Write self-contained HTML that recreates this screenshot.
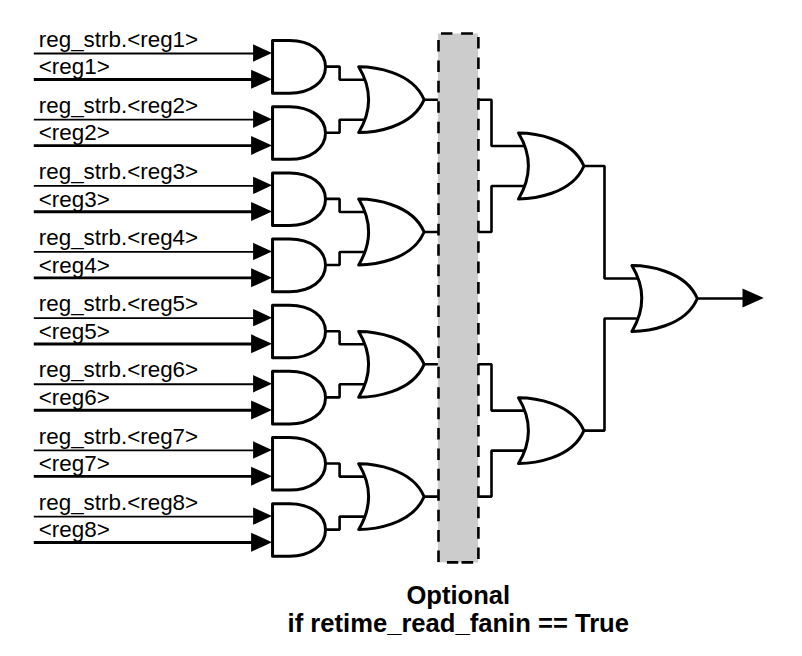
<!DOCTYPE html>
<html><head><meta charset="utf-8"><style>
html,body{margin:0;padding:0;background:#fff;}
svg{display:block;}
.t{font-family:"Liberation Sans",sans-serif;font-size:22.4px;fill:#000;}
.b{font-family:"Liberation Sans",sans-serif;font-size:25.6px;font-weight:bold;fill:#000;}
</style></head><body>
<svg width="802" height="656" viewBox="0 0 802 656">
<path d="M33.8 53.5H256" stroke="#000" stroke-width="1.8"/>
<path d="M33.8 79.45H256" stroke="#000" stroke-width="2.9"/>
<path d="M253.1 44.35L272 53.05L253.1 61.75Z"/>
<path d="M251.1 69.75L272 79.25L251.1 88.75Z"/>
<text x="38.8" y="46.7" class="t">reg_strb.&lt;reg1&gt;</text>
<text x="38.8" y="74.2" class="t">&lt;reg1&gt;</text>
<path d="M33.8 119.65H256" stroke="#000" stroke-width="1.8"/>
<path d="M33.8 145.6H256" stroke="#000" stroke-width="2.9"/>
<path d="M253.1 110.5L272 119.2L253.1 127.9Z"/>
<path d="M251.1 135.9L272 145.4L251.1 154.9Z"/>
<text x="38.8" y="112.85" class="t">reg_strb.&lt;reg2&gt;</text>
<text x="38.8" y="140.35" class="t">&lt;reg2&gt;</text>
<path d="M33.8 185.8H256" stroke="#000" stroke-width="1.8"/>
<path d="M33.8 211.75H256" stroke="#000" stroke-width="2.9"/>
<path d="M253.1 176.65L272 185.35L253.1 194.05Z"/>
<path d="M251.1 202.05L272 211.55L251.1 221.05Z"/>
<text x="38.8" y="179" class="t">reg_strb.&lt;reg3&gt;</text>
<text x="38.8" y="206.5" class="t">&lt;reg3&gt;</text>
<path d="M33.8 251.95H256" stroke="#000" stroke-width="1.8"/>
<path d="M33.8 277.9H256" stroke="#000" stroke-width="2.9"/>
<path d="M253.1 242.8L272 251.5L253.1 260.2Z"/>
<path d="M251.1 268.2L272 277.7L251.1 287.2Z"/>
<text x="38.8" y="245.15" class="t">reg_strb.&lt;reg4&gt;</text>
<text x="38.8" y="272.65" class="t">&lt;reg4&gt;</text>
<path d="M33.8 318.1H256" stroke="#000" stroke-width="1.8"/>
<path d="M33.8 344.05H256" stroke="#000" stroke-width="2.9"/>
<path d="M253.1 308.95L272 317.65L253.1 326.35Z"/>
<path d="M251.1 334.35L272 343.85L251.1 353.35Z"/>
<text x="38.8" y="311.3" class="t">reg_strb.&lt;reg5&gt;</text>
<text x="38.8" y="338.8" class="t">&lt;reg5&gt;</text>
<path d="M33.8 384.25H256" stroke="#000" stroke-width="1.8"/>
<path d="M33.8 410.2H256" stroke="#000" stroke-width="2.9"/>
<path d="M253.1 375.1L272 383.8L253.1 392.5Z"/>
<path d="M251.1 400.5L272 410L251.1 419.5Z"/>
<text x="38.8" y="377.45" class="t">reg_strb.&lt;reg6&gt;</text>
<text x="38.8" y="404.95" class="t">&lt;reg6&gt;</text>
<path d="M33.8 450.4H256" stroke="#000" stroke-width="1.8"/>
<path d="M33.8 476.35H256" stroke="#000" stroke-width="2.9"/>
<path d="M253.1 441.25L272 449.95L253.1 458.65Z"/>
<path d="M251.1 466.65L272 476.15L251.1 485.65Z"/>
<text x="38.8" y="443.6" class="t">reg_strb.&lt;reg7&gt;</text>
<text x="38.8" y="471.1" class="t">&lt;reg7&gt;</text>
<path d="M33.8 516.55H256" stroke="#000" stroke-width="1.8"/>
<path d="M33.8 542.5H256" stroke="#000" stroke-width="2.9"/>
<path d="M253.1 507.4L272 516.1L253.1 524.8Z"/>
<path d="M251.1 532.8L272 542.3L251.1 551.8Z"/>
<text x="38.8" y="509.75" class="t">reg_strb.&lt;reg8&gt;</text>
<text x="38.8" y="537.25" class="t">&lt;reg8&gt;</text>
<path d="M289.6 40.6H272.55V93.2H289.6C310.42 93.2 325.5 82.15 325.5 66.9C325.5 51.65 310.42 40.6 289.6 40.6Z" fill="#fff" stroke="#000" stroke-width="3.0" stroke-linejoin="round"/>
<path d="M289.6 106.75H272.55V159.35H289.6C310.42 159.35 325.5 148.3 325.5 133.05C325.5 117.8 310.42 106.75 289.6 106.75Z" fill="#fff" stroke="#000" stroke-width="3.0" stroke-linejoin="round"/>
<path d="M289.6 172.9H272.55V225.5H289.6C310.42 225.5 325.5 214.45 325.5 199.2C325.5 183.95 310.42 172.9 289.6 172.9Z" fill="#fff" stroke="#000" stroke-width="3.0" stroke-linejoin="round"/>
<path d="M289.6 239.05H272.55V291.65H289.6C310.42 291.65 325.5 280.6 325.5 265.35C325.5 250.1 310.42 239.05 289.6 239.05Z" fill="#fff" stroke="#000" stroke-width="3.0" stroke-linejoin="round"/>
<path d="M289.6 305.2H272.55V357.8H289.6C310.42 357.8 325.5 346.75 325.5 331.5C325.5 316.25 310.42 305.2 289.6 305.2Z" fill="#fff" stroke="#000" stroke-width="3.0" stroke-linejoin="round"/>
<path d="M289.6 371.35H272.55V423.95H289.6C310.42 423.95 325.5 412.9 325.5 397.65C325.5 382.4 310.42 371.35 289.6 371.35Z" fill="#fff" stroke="#000" stroke-width="3.0" stroke-linejoin="round"/>
<path d="M289.6 437.5H272.55V490.1H289.6C310.42 490.1 325.5 479.05 325.5 463.8C325.5 448.55 310.42 437.5 289.6 437.5Z" fill="#fff" stroke="#000" stroke-width="3.0" stroke-linejoin="round"/>
<path d="M289.6 503.65H272.55V556.25H289.6C310.42 556.25 325.5 545.2 325.5 529.95C325.5 514.7 310.42 503.65 289.6 503.65Z" fill="#fff" stroke="#000" stroke-width="3.0" stroke-linejoin="round"/>
<path d="M358.7 66.8C371.98 66.8 411.94 70.81 424.1 99.7C411.94 128.59 371.98 132.6 358.7 132.6Q378.5 99.7 358.7 66.8Z" fill="#fff" stroke="#000" stroke-width="3.0" stroke-linejoin="round"/>
<path d="M358.7 199.1C371.98 199.1 411.94 203.11 424.1 232C411.94 260.89 371.98 264.9 358.7 264.9Q378.5 232 358.7 199.1Z" fill="#fff" stroke="#000" stroke-width="3.0" stroke-linejoin="round"/>
<path d="M358.7 331.4C371.98 331.4 411.94 335.41 424.1 364.3C411.94 393.19 371.98 397.2 358.7 397.2Q378.5 364.3 358.7 331.4Z" fill="#fff" stroke="#000" stroke-width="3.0" stroke-linejoin="round"/>
<path d="M358.7 463.7C371.98 463.7 411.94 467.71 424.1 496.6C411.94 525.49 371.98 529.5 358.7 529.5Q378.5 496.6 358.7 463.7Z" fill="#fff" stroke="#000" stroke-width="3.0" stroke-linejoin="round"/>
<path d="M518.5 133.1C531.78 133.1 571.74 137.11 583.9 166C571.74 194.89 531.78 198.9 518.5 198.9Q538.3 166 518.5 133.1Z" fill="#fff" stroke="#000" stroke-width="3.0" stroke-linejoin="round"/>
<path d="M518.5 397.7C531.78 397.7 571.74 401.71 583.9 430.6C571.74 459.49 531.78 463.5 518.5 463.5Q538.3 430.6 518.5 397.7Z" fill="#fff" stroke="#000" stroke-width="3.0" stroke-linejoin="round"/>
<path d="M631.9 265.6C645.18 265.6 685.14 269.61 697.3 298.5C685.14 327.39 645.18 331.4 631.9 331.4Q651.7 298.5 631.9 265.6Z" fill="#fff" stroke="#000" stroke-width="3.0" stroke-linejoin="round"/>
<path d="M742.5 288.5L763.8 298L742.5 307.5Z"/>
<path d="M325.5 66.6H339.6V79.7H364.94M325.5 132.75H339.6V119.7H364.94M424.1 99.7H438.5M325.5 198.9H339.6V212H364.94M325.5 265.05H339.6V252H364.94M424.1 232H438.5M325.5 331.2H339.6V344.3H364.94M325.5 397.35H339.6V384.3H364.94M424.1 364.3H438.5M325.5 463.5H339.6V476.6H364.94M325.5 529.65H339.6V516.6H364.94M424.1 496.6H438.5M478.4 99.7H491.5V146H524.74M478.4 232H491.5V186H524.74M478.4 364.3H491.5V410.6H524.74M478.4 496.6H491.5V450.6H524.74M583.9 166H604.5V278.5H638.14M583.9 430.6H604.5V318.5H638.14M697.3 298.5H745" fill="none" stroke="#000" stroke-width="2.6" stroke-linejoin="bevel"/>
<rect x="437.9" y="33.5" width="40.2" height="528.9" fill="#cccccc"/>
<path d="M438.5 40V51.6M478.4 37V48.6M438.5 60.42V72.02M478.4 57.42V69.02M438.5 80.84V92.44M478.4 77.84V89.44M438.5 101.26V112.86M478.4 98.26V109.86M438.5 121.68V133.28M478.4 118.68V130.28M438.5 142.1V153.7M478.4 139.1V150.7M438.5 162.52V174.12M478.4 159.52V171.12M438.5 182.94V194.54M478.4 179.94V191.54M438.5 203.36V214.96M478.4 200.36V211.96M438.5 223.78V235.38M478.4 220.78V232.38M438.5 244.2V255.8M478.4 241.2V252.8M438.5 264.62V276.22M478.4 261.62V273.22M438.5 285.04V296.64M478.4 282.04V293.64M438.5 305.46V317.06M478.4 302.46V314.06M438.5 325.88V337.48M478.4 322.88V334.48M438.5 346.3V357.9M478.4 343.3V354.9M438.5 366.72V378.32M478.4 363.72V375.32M438.5 387.14V398.74M478.4 384.14V395.74M438.5 407.56V419.16M478.4 404.56V416.16M438.5 427.98V439.58M478.4 424.98V436.58M438.5 448.4V460M478.4 445.4V457M438.5 468.82V480.42M478.4 465.82V477.42M438.5 489.24V500.84M478.4 486.24V497.84M438.5 509.66V521.26M478.4 506.66V518.26M438.5 530.08V541.68M478.4 527.08V538.68M438.5 550.5V562.1M478.4 547.5V559.1M441 33.5H452.4M461.1 33.5H472.9M446.9 562.4H458.3M461.5 562.4H473.2" fill="none" stroke="#000" stroke-width="2.6"/>
<text x="458.3" y="603.7" class="b" text-anchor="middle">Optional</text>
<text x="458.3" y="632.1" class="b" text-anchor="middle">if retime_read_fanin == True</text>
</svg>
</body></html>
